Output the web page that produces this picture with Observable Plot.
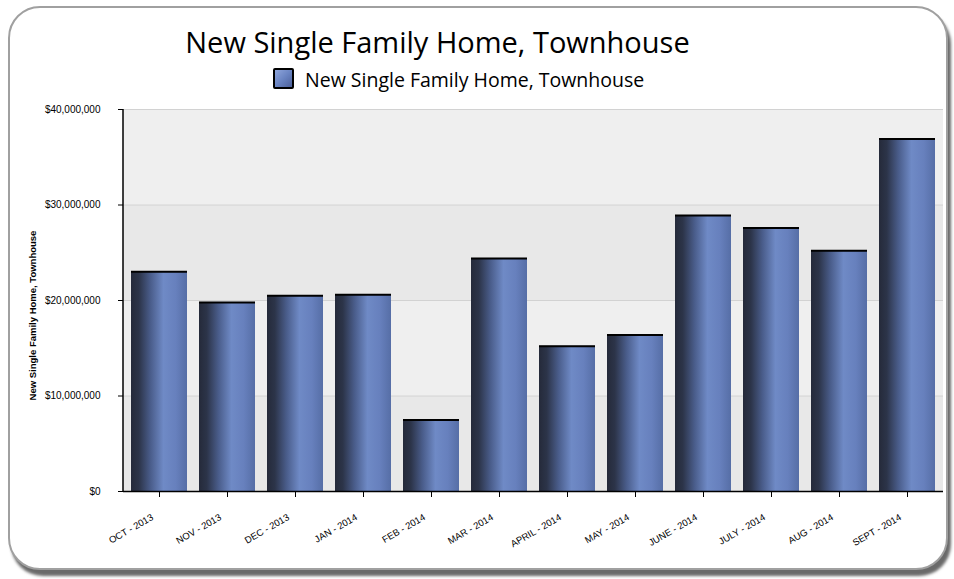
<!DOCTYPE html>
<html>
<head>
<meta charset="utf-8">
<script src="https://cdn.jsdelivr.net/npm/d3@7"></script>
<script src="https://cdn.jsdelivr.net/npm/@observablehq/plot@0.6"></script>
<style>
  html, body { margin: 0; padding: 0; background: #fff; }
  #wrap { position: relative; width: 954px; height: 579px; overflow: hidden; font-family: "Open Sans", sans-serif; }
  #frame { position: absolute; left: 8px; top: 6px; width: 936px; height: 560px; border: 2px solid #a0a0a0; border-radius: 32px; background: #fff; box-shadow: 3px 6px 3px #6a6a6a; }
  #title { position: absolute; left: 0; top: 27px; width: 875px; text-align: center; font-size: 29px; line-height: 1; color: #000; }
  #legend .sw { position: absolute; left: 273px; top: 68px; width: 17px; height: 17px; border: 2px solid #000; border-radius: 2px; background: linear-gradient(135deg, #8fa6dc 0%, #6a84c2 50%, #4b5f99 100%); }
  #legtext { position: absolute; left: 305px; top: 70px; font-size: 19.5px; line-height: 1; color: #000; white-space: nowrap; }
  #plot { position: absolute; left: 0; top: 95px; }
</style>
</head>
<body>
<div id="wrap">
  <div id="frame"></div>
  <div id="title"></div>
  <div id="legend"><div class="sw"></div><span id="legtext"></span></div>
  <div id="plot"></div>
</div>
<script>
const titleText = "New Single Family Home, Townhouse";
const seriesName = "New Single Family Home, Townhouse";
const months = ["OCT - 2013", "NOV - 2013", "DEC - 2013", "JAN - 2014", "FEB - 2014", "MAR - 2014",
  "APRIL - 2014", "MAY - 2014", "JUNE - 2014", "JULY - 2014", "AUG - 2014", "SEPT - 2014"];
const values = [23000000, 19800000, 20500000, 20600000, 7500000, 24400000,
  15200000, 16400000, 28900000, 27600000, 25200000, 36900000];
const yTicks = [0, 10000000, 20000000, 30000000, 40000000];

document.getElementById("title").textContent = titleText;
document.getElementById("legtext").textContent = seriesName;

const data = months.map((m, i) => ({month: m, value: values[i]}));
const bands = yTicks.slice(0, -1).map((t, i) => ({y1: t, y2: yTicks[i + 1], alt: i % 2}));

// vertical axis line along the left edge of the frame
const yAxisLine = (index, scales, values, dimensions) => {
  const {marginLeft, marginTop, marginBottom, height} = dimensions;
  const g = d3.create("svg:line")
    .attr("x1", marginLeft).attr("x2", marginLeft)
    .attr("y1", marginTop).attr("y2", height - marginBottom)
    .attr("stroke", "#000").attr("stroke-width", 1.5);
  return g.node();
};

const chart = Plot.plot({
  width: 954,
  height: 470,
  marginTop: 14,
  marginBottom: 74,
  marginLeft: 123,
  marginRight: 11,
  style: {fontFamily: "Liberation Sans, Arial, sans-serif", fontSize: "10px", color: "#000", background: "transparent"},
  x: {domain: months, paddingInner: 0.176, paddingOuter: 0.117, tickSize: 6, tickFormat: () => "", label: null},
  y: {domain: [0, 40000000], ticks: yTicks, tickSize: 5, tickPadding: 18, label: null,
      tickFormat: d => "$" + d3.format(",")(d)},
  marks: [
    Plot.rect(bands, {y1: "y1", y2: "y2", fill: d => d.alt ? "#efefef" : "#e8e8e8"}),
    Plot.ruleY(yTicks, {stroke: "#d2d2d2", strokeWidth: 1}),
    Plot.barY(data, {x: "month", y: "value", fill: "url(#barGrad)"}),
    Plot.tickY(data, {x: "month", y: "value", stroke: "#000", strokeWidth: 2}),
    Plot.ruleY([0], {stroke: "#000", strokeWidth: 1.5}),
    yAxisLine,
    Plot.text(months, {x: d => d, frameAnchor: "bottom", dx: -7, dy: 25, rotate: -30, textAnchor: "end", lineAnchor: "middle", fontSize: 9.5, fill: "#000"}),
    Plot.text([seriesName], {frameAnchor: "left", dx: -91, dy: 15, rotate: -90, textAnchor: "middle", fontWeight: "bold", fontSize: 9.5, fill: "#000"})
  ]
});

d3.select(chart).insert("defs", ":first-child").html(`
  <linearGradient id="barGrad" x1="0" y1="0" x2="1" y2="0">
    <stop offset="0%" stop-color="#252a3a"/>
    <stop offset="14%" stop-color="#2c3449"/>
    <stop offset="35%" stop-color="#4a5d8b"/>
    <stop offset="58%" stop-color="#6f8ac6"/>
    <stop offset="80%" stop-color="#6780bd"/>
    <stop offset="100%" stop-color="#566ea6"/>
  </linearGradient>`);

document.getElementById("plot").appendChild(chart);
</script>
</body>
</html>
